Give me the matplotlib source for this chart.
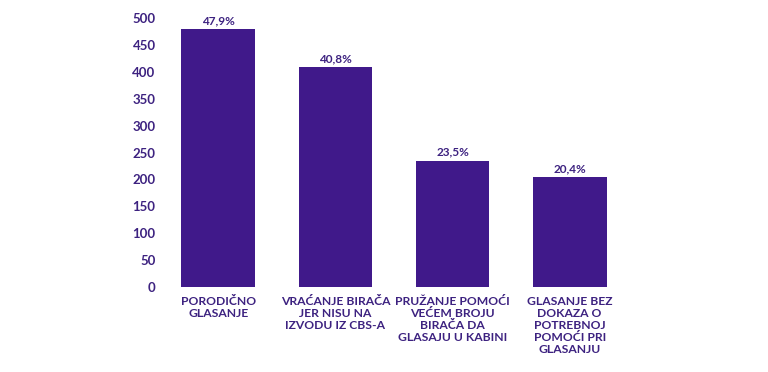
import matplotlib.pyplot as plt

categories = ['PORODIČNO\nGLASANJE',
              'VRAĆANJE BIRAČA\nJER NISU NA\nIZVODU IZ CBS-A',
              'PRUŽANJE POMOĆI\nVEĆEM BROJU\nBIRAČA DA\nGLASAJU U KABINI',
              'GLASANJE BEZ\nDOKAZA O\nPOTREBNOJ\nPOMOĆI PRI\nGLASANJU']
values = [479, 408, 235, 204]
pct_labels = ['47,9%', '40,8%', '23,5%', '20,4%']
yticks = [0, 50, 100, 150, 200, 250, 300, 350, 400, 450, 500]

bar_color = '#40198a'
text_color = '#3d2280'

plt.rcParams['font.family'] = ['Lato', 'DejaVu Sans']

fig = plt.figure(figsize=(7.68, 3.72), dpi=100)
ax = fig.add_axes([0.208, 0.228, 0.61, 0.724])

x = range(len(values))
bars = ax.bar(x, values, width=0.63, color=bar_color)
for b, lab in zip(bars, pct_labels):
    ax.text(b.get_x() + b.get_width() / 2, b.get_height() + 6, lab,
            ha='center', va='bottom', fontsize=8.5, fontweight='bold', color=text_color)

ax.set_xlim(-0.5, 3.5)
ax.set_ylim(0, 500)
ax.set_yticks(yticks)
ax.set_yticklabels([str(t) for t in yticks], fontsize=9.5, fontweight='bold', color=text_color)
ax.set_xticks(list(x))
ax.set_xticklabels(categories, fontsize=8.7, fontweight='bold', color=text_color,
                   linespacing=1.12, va='top')
ax.tick_params(axis='both', length=0)
ax.tick_params(axis='y', pad=3)
ax.tick_params(axis='x', pad=6)
for s in ax.spines.values():
    s.set_visible(False)

fig.savefig('out.png', dpi=100)
